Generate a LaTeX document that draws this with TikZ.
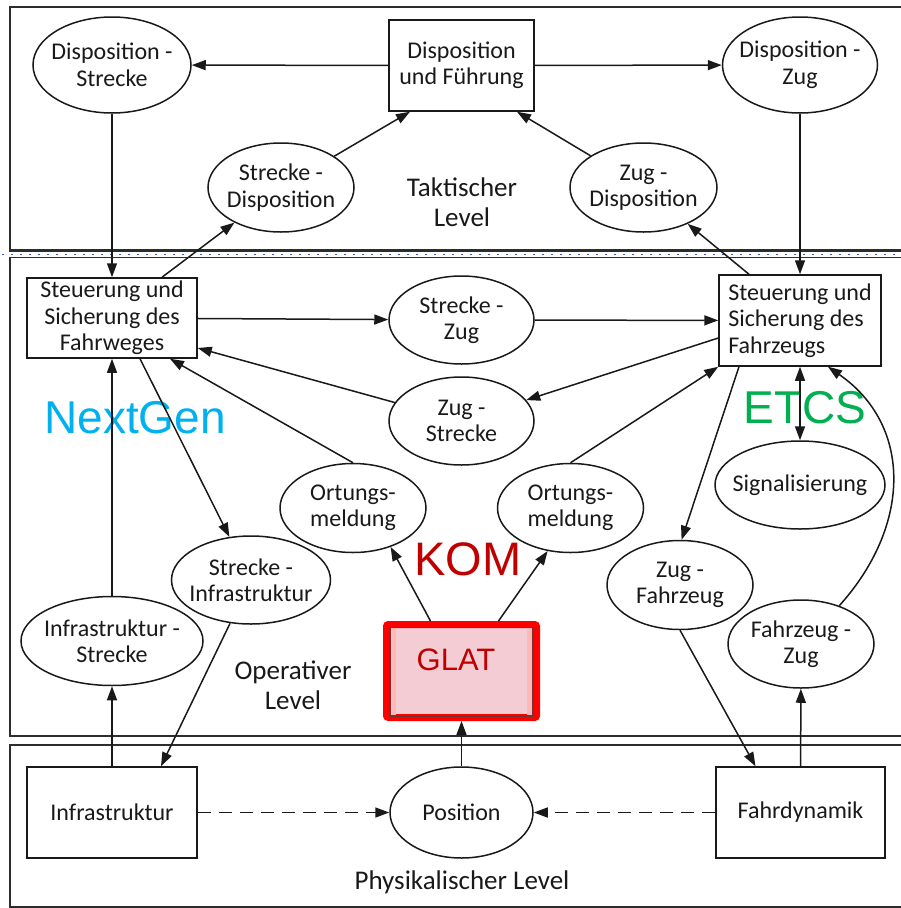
\documentclass[tikz,border=0pt]{standalone}
\usepackage{fontspec}
\setmainfont{Carlito}
\newfontfamily\labelfont{Liberation Sans}
\usetikzlibrary{arrows.meta,shapes.geometric}
\definecolor{ink}{RGB}{25,25,25}
\definecolor{framegray}{RGB}{45,45,45}
\definecolor{dotblue}{RGB}{60,100,190}
\definecolor{nextgenblue}{RGB}{0,176,240}
\definecolor{etcsgreen}{RGB}{0,176,80}
\definecolor{komred}{RGB}{192,0,0}
\definecolor{glatpink}{RGB}{244,204,212}
\definecolor{glatstrip}{RGB}{255,183,183}
\definecolor{glatedge}{RGB}{120,50,50}
\begin{document}
\begin{tikzpicture}[x=1pt,y=-1pt,
  every node/.style={text=ink, font=\fontsize{24}{26.5}\selectfont},
  % ellipse size is set by minimum width/height only, not by its text
  oval/.style={ellipse, draw=ink, line width=1.5pt, inner xsep=-25pt, inner ysep=-25pt, align=center},
  box/.style={rectangle, draw=ink, line width=1.5pt, inner sep=0pt, align=center},
  levelname/.style={font=\fontsize{27}{30}\selectfont, align=center},
  bigtag/.style={font=\labelfont\fontsize{46}{50}\selectfont},
  flow/.style={draw=ink, line width=1.5pt, -{Triangle[length=14pt,width=10pt]}},
  twoway/.style={draw=ink, line width=1.5pt, {Triangle[length=14pt,width=10pt]}-{Triangle[length=14pt,width=10pt]}},
  linkdash/.style={dash pattern=on 13pt off 8pt},
  frame/.style={draw=framegray, line width=2pt}]
\useasboundingbox (0,0) rectangle (901,908);
\clip (0,0) rectangle (901,908);

% level panels
\draw[frame, line width=2.6pt] (10,7) rectangle (915,250.5);
\draw[frame, line width=1.6pt] (10,257.5) rectangle (915,736);
\draw[frame, line width=1.6pt] (10,745) rectangle (915,907);
\draw[dotblue, line width=1.6pt, dash pattern=on 1.6pt off 7.4pt] (2,254.5) -- (901,254.5);

% tactical level
\node[oval, minimum width=158pt, minimum height=96pt] (DS) at (112,65) {Disposition -\\Strecke};
\node[box, minimum width=145pt, minimum height=91pt] (DuF) at (461.5,65.5) {Disposition\\und Führung};
\node[oval, minimum width=155pt, minimum height=96pt] (DZ) at (800,65) {Disposition -\\Zug};
\node[oval, minimum width=146pt, minimum height=89pt] (SD) at (281,187.5) {Strecke -\\Disposition};
\node[oval, minimum width=147pt, minimum height=89pt] (ZD) at (643.5,187.5) {Zug -\\Disposition};
\node[levelname] (TL) at (462,202) {Taktischer\\Level};

% operative level
\node[box, minimum width=170pt, minimum height=80pt] (SFW) at (112,318) {Steuerung und\\Sicherung des\\Fahrweges};
\node[box, minimum width=162pt, minimum height=91pt, align=left] (SFZ) at (800,320.5) {Steuerung und\\Sicherung des\\Fahrzeugs};
\node[oval, minimum width=145pt, minimum height=88pt] (SZ) at (461.5,320) {Strecke -\\Zug};
\node[oval, minimum width=145pt, minimum height=88pt] (ZS) at (461.5,421) {Zug -\\Strecke};
\node[oval, minimum width=146pt, minimum height=89pt] (OL) at (353,508) {Ortungs-\\meldung};
\node[oval, minimum width=146pt, minimum height=89pt] (OR) at (570.5,508) {Ortungs-\\meldung};
\node[oval, minimum width=170pt, minimum height=88pt] (Sig) at (800,485) {Signalisierung};
\node[oval, minimum width=159pt, minimum height=88pt] (SI) at (251,580) {Strecke -\\Infrastruktur};
\node[oval, minimum width=182pt, minimum height=89pt] (IS) at (112,641) {Infrastruktur -\\Strecke};
\node[oval, minimum width=146pt, minimum height=89pt] (ZF) at (680,585) {Zug -\\Fahrzeug};
\node[oval, minimum width=146pt, minimum height=88pt] (FZ) at (801,644) {Fahrzeug -\\Zug};
\node[levelname] (OLv) at (293,685) {Operativer\\Level};

% GLAT block
\node[rectangle, draw=red, line width=7pt, fill=glatpink, rounded corners=2pt,
      minimum width=150pt, minimum height=93pt, inner sep=0pt] (GLAT) at (461.5,671) {};
\fill[glatstrip] (390,627.5) rectangle (396,716);
\fill[glatstrip] (526.5,627.5) rectangle (533,716);
\draw[glatedge, line width=1.2pt] (390,627.5) rectangle (533,716);
\node[font=\labelfont\fontsize{31}{34}\selectfont, text=komred] (GLATtext) at (456,660) {GLAT};

% physical level
\node[box, minimum width=170pt, minimum height=91pt] (Infra) at (112,812.5) {Infrastruktur};
\node[oval, minimum width=143pt, minimum height=91pt] (Pos) at (461.5,812.5) {Position};
\node[box, minimum width=169pt, minimum height=91pt] (FD) at (800.5,812.5) {Fahrdynamik};
\node[levelname] (PL) at (462,882) {Physikalischer Level};

% system tags
\node[bigtag, text=nextgenblue] (NG) at (135,418) {NextGen};
\node[bigtag, text=etcsgreen] (ETCS) at (805,408) {ETCS};
\node[bigtag, text=komred, font=\labelfont\fontsize{47}{50}\selectfont] (KOM) at (468,559) {KOM};

% connectors, tactical level
\draw[flow] (DuF) -- (DS);
\draw[flow] (DuF) -- (DZ);
\draw[flow] (DS) -- (SFW);
\draw[flow] (DZ) -- (SFZ);
\draw[flow] ([xshift=50pt]SFW.north) -- (SD);
\draw[flow] (SD) -- ([xshift=-51.5pt]DuF.south);
\draw[flow] (ZD) -- ([xshift=55.5pt]DuF.south);
\draw[flow] ([xshift=-51pt]SFZ.north) -- (ZD);

% connectors, operative level
\draw[flow] (SFW) -- (SZ);
\draw[flow] (SZ) -- (SFZ);
\draw[flow] ([yshift=-17.5pt]SFZ.west) -- (ZS);
\draw[flow] (ZS) -- ([yshift=-30pt]SFW.east);
\draw[flow] (OL.north) -- ([xshift=58pt]SFW.south);
\draw[flow] (OR.north) -- (SFZ.south west);
\draw[flow] ([xshift=28pt]SFW.south) -- (SI);
\draw[flow] (IS) -- (SFW);
\draw[flow] (SI) -- ([xshift=49pt]Infra.north);
\draw[flow] (Infra) -- (IS);
\draw[flow] ([xshift=-31pt]GLAT.north) -- (OL.-46);
\draw[flow] ([xshift=37pt]GLAT.north) -- (OR.-118);
\draw[flow] ([xshift=-61pt]SFZ.south) -- (ZF.88);
\draw[flow] (ZF.south) -- ([xshift=-45pt]FD.north);
\draw[flow] (FD) -- (FZ);
\draw[flow] (FZ.45) .. controls (912,525) and (912,425) .. ([xshift=28pt]SFZ.south);
\draw[twoway] (SFZ) -- (Sig);

% connectors, physical level
\draw[flow] (Pos) -- (GLAT);
\draw[flow, linkdash] (Infra) -- (Pos);
\draw[flow, linkdash] (FD) -- (Pos);
\end{tikzpicture}
\end{document}
